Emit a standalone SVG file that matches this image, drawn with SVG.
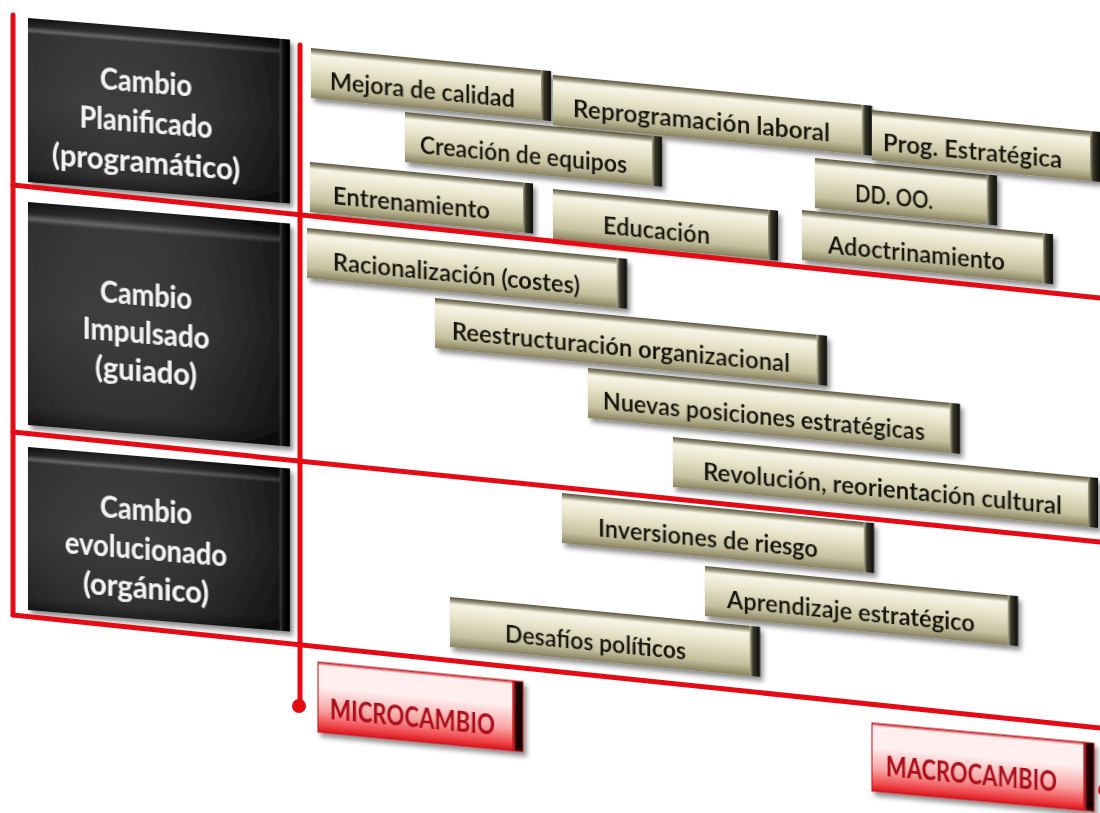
<svg xmlns="http://www.w3.org/2000/svg" width="1100" height="813" viewBox="0 0 1100 813">
  <defs>
    <!-- tan block: dark top rim, cream highlight, olive base -->
    <linearGradient id="tanFace" x1="0" y1="0" x2="0" y2="1">
      <stop offset="0" stop-color="#55523f"/>
      <stop offset="0.07" stop-color="#9a967c"/>
      <stop offset="0.14" stop-color="#f7f5e6"/>
      <stop offset="0.4" stop-color="#e8e4cb"/>
      <stop offset="0.78" stop-color="#c5c09e"/>
      <stop offset="1" stop-color="#878160"/>
    </linearGradient>
    <linearGradient id="tanSide" x1="0" y1="0" x2="1" y2="0">
      <stop offset="0" stop-color="#a7a383"/>
      <stop offset="0.3" stop-color="#3a382a"/>
      <stop offset="1" stop-color="#0c0c08"/>
    </linearGradient>
    <!-- black category block -->
    <linearGradient id="blkFace" x1="0" y1="0" x2="0" y2="1">
      <stop offset="0" stop-color="#050505"/>
      <stop offset="0.05" stop-color="#1c1c1c"/>
      <stop offset="0.075" stop-color="#5c5c5c"/>
      <stop offset="0.095" stop-color="#262626"/>
      <stop offset="0.5" stop-color="#2c2c2c"/>
      <stop offset="0.92" stop-color="#1d1d1d"/>
      <stop offset="1" stop-color="#080808"/>
    </linearGradient>
    <linearGradient id="blkShade" x1="0" y1="0" x2="1" y2="0">
      <stop offset="0" stop-color="#ffffff" stop-opacity="0.04"/>
      <stop offset="1" stop-color="#000000" stop-opacity="0.35"/>
    </linearGradient>
    <linearGradient id="blkSide" x1="0" y1="0" x2="1" y2="0">
      <stop offset="0" stop-color="#3a3a3a"/>
      <stop offset="0.35" stop-color="#0a0a0a"/>
      <stop offset="1" stop-color="#000"/>
    </linearGradient>
    <!-- red scale block -->
    <linearGradient id="redFace" x1="0" y1="0" x2="0" y2="1">
      <stop offset="0" stop-color="#c8202a"/>
      <stop offset="0.05" stop-color="#ffeeee"/>
      <stop offset="0.35" stop-color="#fff0f0"/>
      <stop offset="0.68" stop-color="#f8a4a4"/>
      <stop offset="0.9" stop-color="#ef4448"/>
      <stop offset="1" stop-color="#d8141c"/>
    </linearGradient>
    <linearGradient id="redSide" x1="0" y1="0" x2="1" y2="0">
      <stop offset="0" stop-color="#d53a3a"/>
      <stop offset="0.3" stop-color="#2a0606"/>
      <stop offset="1" stop-color="#000"/>
    </linearGradient>
    <filter id="sh" x="-10%" y="-20%" width="125%" height="160%">
      <feDropShadow dx="3" dy="4" stdDeviation="2.5" flood-color="#000" flood-opacity="0.45"/>
    </filter>
    <style>
      .tf { fill: url(#tanFace); }
      .ts { fill: url(#tanSide); }
      .tan text { font-family: Lato, "Open Sans", "DejaVu Sans", sans-serif; font-weight: 700; font-size: 24px; fill: #18180f; text-anchor: middle; }
      .bf { fill: url(#blkFace); }
      .bsh { fill: url(#blkShade); }
      .bs { fill: url(#blkSide); }
      .blk text { font-family: Lato, "Open Sans", "DejaVu Sans", sans-serif; font-weight: 700; font-size: 30px; fill: #f3f3f3; text-anchor: middle; }
      .rf { fill: url(#redFace); stroke: #c8101a; stroke-width: 1; }
      .rs { fill: url(#redSide); stroke: #c8101a; stroke-width: 1; }
      .red text { font-family: Lato, "Open Sans", "DejaVu Sans", sans-serif; font-weight: 900; font-size: 28px; fill: #b00e1a; text-anchor: middle; }
      .ln { stroke: #e60a14; stroke-width: 5; stroke-linecap: round; fill: none; }
      .dot { fill: #e60a14; }
    </style>
  </defs>

  <rect width="1100" height="813" fill="#ffffff"/>

  <!-- category blocks -->
  <g id="cat-planificado" class="blk" transform="translate(28,18) skewY(4.7)" filter="url(#sh)">
    <rect class="bf" width="252" height="164"/>
    <rect class="bsh" width="252" height="164"/>
    <rect class="bs" x="252" width="10" height="164"/>
    <text x="118" y="65" textLength="92" lengthAdjust="spacingAndGlyphs">Cambio</text>
    <text x="118" y="105" textLength="133" lengthAdjust="spacingAndGlyphs">Planificado</text>
    <text x="118" y="145" textLength="188" lengthAdjust="spacingAndGlyphs">(programático)</text>
  </g>
  <g id="cat-impulsado" class="blk" transform="translate(28,202) skewY(4.7)" filter="url(#sh)">
    <rect class="bf" width="252" height="223"/>
    <rect class="bsh" width="252" height="223"/>
    <rect class="bs" x="252" width="10" height="223"/>
    <text x="118" y="94" textLength="92" lengthAdjust="spacingAndGlyphs">Cambio</text>
    <text x="118" y="132" textLength="127" lengthAdjust="spacingAndGlyphs">Impulsado</text>
    <text x="118" y="170" textLength="102" lengthAdjust="spacingAndGlyphs">(guiado)</text>
  </g>
  <g id="cat-evolucionado" class="blk" transform="translate(28,447) skewY(4.7)" filter="url(#sh)">
    <rect class="bf" width="252" height="163"/>
    <rect class="bsh" width="252" height="163"/>
    <rect class="bs" x="252" width="10" height="163"/>
    <text x="118" y="64" textLength="92" lengthAdjust="spacingAndGlyphs">Cambio</text>
    <text x="118" y="103" textLength="162" lengthAdjust="spacingAndGlyphs">evolucionado</text>
    <text x="118" y="142" textLength="126" lengthAdjust="spacingAndGlyphs">(orgánico)</text>
  </g>

  <!-- intervention blocks -->
  <g id="n-ddoo" class="tan" transform="translate(815,158) skewY(5.5)" filter="url(#sh)">
    <rect class="tf" width="172" height="50"/><rect class="ts" x="172" width="10" height="50"/>
    <text x="79" y="40" textLength="78" lengthAdjust="spacingAndGlyphs">DD. OO.</text>
  </g>
  <g id="n-mejora" class="tan" transform="translate(311,48) skewY(5.5)" filter="url(#sh)">
    <rect class="tf" width="230" height="50"/><rect class="ts" x="230" width="10" height="50"/>
    <text x="111.5" y="40" textLength="185" lengthAdjust="spacingAndGlyphs">Mejora de calidad</text>
  </g>
  <g id="n-reprogramacion" class="tan" transform="translate(553,75) skewY(5.5)" filter="url(#sh)">
    <rect class="tf" width="309" height="50"/><rect class="ts" x="309" width="10" height="50"/>
    <text x="148.5" y="40" textLength="257" lengthAdjust="spacingAndGlyphs">Reprogramación laboral</text>
  </g>
  <g id="n-prog" class="tan" transform="translate(872,110) skewY(5.5)" filter="url(#sh)">
    <rect class="tf" width="218" height="50"/><rect class="ts" x="218" width="10" height="50"/>
    <text x="100.5" y="40" textLength="179" lengthAdjust="spacingAndGlyphs">Prog. Estratégica</text>
  </g>
  <g id="n-equipos" class="tan" transform="translate(405,112) skewY(5.5)" filter="url(#sh)">
    <rect class="tf" width="247" height="50"/><rect class="ts" x="247" width="10" height="50"/>
    <text x="118.5" y="40" textLength="207" lengthAdjust="spacingAndGlyphs">Creación de equipos</text>
  </g>
  <g id="n-entrenamiento" class="tan" transform="translate(310,162) skewY(5.5)" filter="url(#sh)">
    <rect class="tf" width="213" height="50"/><rect class="ts" x="213" width="10" height="50"/>
    <text x="101.5" y="40" textLength="157" lengthAdjust="spacingAndGlyphs">Entrenamiento</text>
  </g>
  <g id="n-educacion" class="tan" transform="translate(553,189) skewY(5.5)" filter="url(#sh)">
    <rect class="tf" width="215" height="50"/><rect class="ts" x="215" width="10" height="50"/>
    <text x="103.5" y="40" textLength="107" lengthAdjust="spacingAndGlyphs">Educación</text>
  </g>
  <g id="n-adoctrinamiento" class="tan" transform="translate(802,210) skewY(5.5)" filter="url(#sh)">
    <rect class="tf" width="241" height="50"/><rect class="ts" x="241" width="10" height="50"/>
    <text x="114.5" y="41" textLength="177" lengthAdjust="spacingAndGlyphs">Adoctrinamiento</text>
  </g>
  <g id="n-racionalizacion" class="tan" transform="translate(307,228) skewY(5.5)" filter="url(#sh)">
    <rect class="tf" width="310" height="50"/><rect class="ts" x="310" width="10" height="50"/>
    <text x="149.5" y="40" textLength="247" lengthAdjust="spacingAndGlyphs">Racionalización (costes)</text>
  </g>
  <g id="n-reestructuracion" class="tan" transform="translate(435,298) skewY(5.5)" filter="url(#sh)">
    <rect class="tf" width="382" height="50"/><rect class="ts" x="382" width="10" height="50"/>
    <text x="186" y="40" textLength="338" lengthAdjust="spacingAndGlyphs">Reestructuración organizacional</text>
  </g>
  <g id="n-nuevas" class="tan" transform="translate(588,368) skewY(5.5)" filter="url(#sh)">
    <rect class="tf" width="362" height="50"/><rect class="ts" x="362" width="10" height="50"/>
    <text x="176" y="40" textLength="322" lengthAdjust="spacingAndGlyphs">Nuevas posiciones estratégicas</text>
  </g>
  <g id="n-revolucion" class="tan" transform="translate(673,437) skewY(5.5)" filter="url(#sh)">
    <rect class="tf" width="415" height="50"/><rect class="ts" x="415" width="10" height="50"/>
    <text x="209.5" y="40" textLength="359" lengthAdjust="spacingAndGlyphs">Revolución, reorientación cultural</text>
  </g>
  <g id="n-inversiones" class="tan" transform="translate(562,493) skewY(5.5)" filter="url(#sh)">
    <rect class="tf" width="302" height="50"/><rect class="ts" x="302" width="10" height="50"/>
    <text x="146" y="40" textLength="220" lengthAdjust="spacingAndGlyphs">Inversiones de riesgo</text>
  </g>
  <g id="n-aprendizaje" class="tan" transform="translate(705,566) skewY(5.5)" filter="url(#sh)">
    <rect class="tf" width="303" height="50"/><rect class="ts" x="303" width="10" height="50"/>
    <text x="146" y="40" textLength="248" lengthAdjust="spacingAndGlyphs">Aprendizaje estratégico</text>
  </g>
  <g id="n-desafios" class="tan" transform="translate(450,597) skewY(5.5)" filter="url(#sh)">
    <rect class="tf" width="300" height="50"/><rect class="ts" x="300" width="10" height="50"/>
    <text x="145.5" y="40" textLength="181" lengthAdjust="spacingAndGlyphs">Desafíos políticos</text>
  </g>

  <!-- scale ends -->
  <g id="s-micro" class="red" transform="translate(318,662) skewY(5.5)" filter="url(#sh)">
    <rect class="rf" width="195" height="70"/><rect class="rs" x="195" width="10" height="70"/>
    <text x="94.5" y="56" textLength="165" lengthAdjust="spacingAndGlyphs">MICROCAMBIO</text>
  </g>
  <g id="s-macro" class="red" transform="translate(872,723) skewY(5.2)" filter="url(#sh)">
    <rect class="rf" width="212" height="68"/><rect class="rs" x="212" width="10" height="68"/>
    <text x="99.5" y="52" textLength="171" lengthAdjust="spacingAndGlyphs">MACROCAMBIO</text>
  </g>

  <!-- grid lines -->
  <g id="connectors">
    <line class="ln" x1="13" y1="15" x2="13" y2="615"/>
    <line class="ln" x1="300" y1="45" x2="300" y2="706"/>
    <line class="ln" x1="13" y1="185" x2="1100" y2="298"/>
    <line class="ln" x1="13" y1="432" x2="1100" y2="542"/>
    <line class="ln" x1="13" y1="615" x2="1100" y2="728"/>
    <circle class="dot" cx="299" cy="706" r="7"/>
    <circle class="dot" cx="1105" cy="790" r="7"/>
  </g>
</svg>
